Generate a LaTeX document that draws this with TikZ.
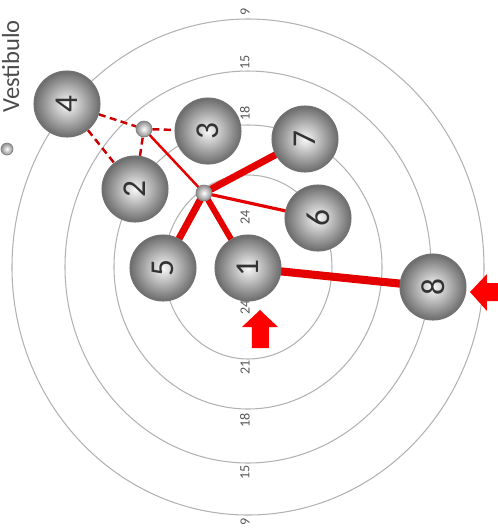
\documentclass[tikz,border=0pt]{standalone}
\usepackage{fontspec}
\setmainfont{Carlito}
\usetikzlibrary{backgrounds}
\tikzset{ball/.style={circle,draw=black!55,line width=0.6pt,shading=radial,inner color=gray!5,outer color=black!58,
    minimum size=1.32cm,inner sep=0pt,font=\fontsize{19}{19}\selectfont,text=black!80,rotate=90},
  hub/.style={circle,draw=black!50,line width=0.4pt,shading=radial,inner color=white,outer color=black!45,minimum size=0.32cm,inner sep=0pt},
  ring/.style={gray!60,line width=0.6pt},
  lbl/.style={font=\fontsize{8}{8}\selectfont,text=gray!70!black,rotate=90,inner sep=0pt},
  link/.style={red!90!black,line cap=round},
  dlink/.style={red!80!black,line width=1.4pt,dash pattern=on 4pt off 2.5pt}}

\begin{document}
\begin{tikzpicture}[x=0.02cm,y=-0.02cm]
\useasboundingbox (0,0) rectangle (498,529);
% rooms
\foreach \n/\x/\y in {1/248/268,2/135/189,3/208/131,4/67/104,5/163/268,6/318/218,7/305/139,8/433/287}
  \node[ball] (n\n) at (\x,\y) {\n};
\node[hub] (hA) at (144,129) {};
\node[hub] (hB) at (204,193) {};
% legend
\node[hub,minimum size=0.24cm] (leg) at (7,149) {};
\node[rotate=90,anchor=base west,inner sep=0pt,font=\fontsize{14}{14}\selectfont,text=black!70] (legtxt) at (19,113) {Vestibulo};
\begin{scope}[on background layer]
\foreach \a/\b in {236/248,183/196,134/142,84/92,28/30}
  \draw[ring] (248,267) ellipse [x radius=\a, y radius=\b];
\foreach \t/\y in {9/12,15/62,18/113,24/217,24/307,21/367,18/420,15/472,9/522}
  \node[lbl] (l\y) at (245,\y) {\t};
\draw[dlink] (n4) -- (hA);
\draw[dlink] (n4) -- (n2);
\draw[dlink] (n2) -- (hA);
\draw[dlink] (hA) -- (n3);
\draw[link,line width=1.4pt] (hA) -- (hB);
\draw[link,line width=4pt] (hB) -- (n7);
\draw[link,line width=4pt] (hB) -- (n5);
\draw[link,line width=3.4pt] (hB) -- (n1);
\draw[link,line width=1.8pt] (hB) -- (n6);
\draw[link,line width=4.6pt] (n1) -- (n8);
\end{scope}
% entrances
\fill[red] (260,310) -- (278,327) -- (269,327) -- (269,348) -- (252,348) -- (252,327) -- (242,327) -- cycle;
\fill[red] (470,292) -- (487,274) -- (487,283) -- (500,283) -- (500,301) -- (487,301) -- (487,311) -- cycle;
\end{tikzpicture}
\end{document}
